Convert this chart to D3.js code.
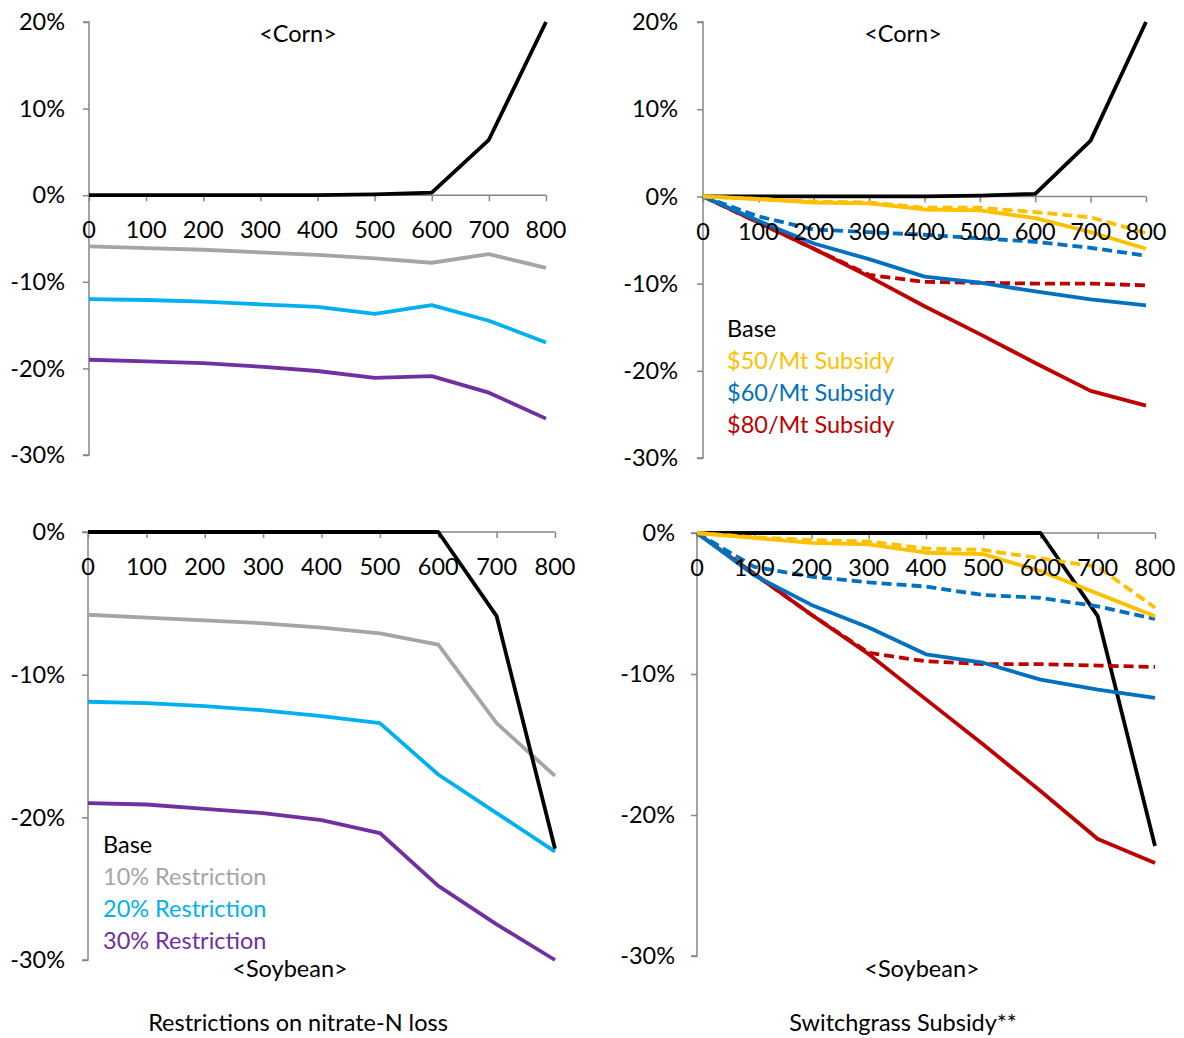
<!DOCTYPE html>
<html><head><meta charset="utf-8">
<script src="https://cdn.jsdelivr.net/npm/d3@7"></script>
<style>
html,body{margin:0;padding:0;background:#fff;}
text{font-family:Lato,"Open Sans",sans-serif;}
</style></head>
<body><svg id="c" width="1184" height="1038"></svg>
<script>
// ---------- data ----------
const xValues = [0,100,200,300,400,500,600,700,800];
const xTickLabels = ["0","100","200","300","400","500","600","700","800"];
const yTicksTop = [20,10,0,-10,-20,-30];
const yTicksBottom = [0,-10,-20,-30];

// Corn, restrictions on nitrate-N loss
const cornBase       = [0,0,0,0,0,0.1,0.3,6.4,20];
const cornRestr10    = [-5.9,-6.1,-6.3,-6.6,-6.9,-7.3,-7.8,-6.8,-8.4];
const cornRestr20    = [-12.0,-12.1,-12.3,-12.6,-12.9,-13.7,-12.7,-14.5,-17.0];
const cornRestr30    = [-19.0,-19.2,-19.4,-19.8,-20.3,-21.1,-20.9,-22.8,-25.8];

// Corn, switchgrass subsidy (solid / dashed)
const cornSub50      = [0,-0.3,-0.7,-0.8,-1.5,-1.6,-2.5,-4.1,-6.0];
const cornSub50d     = [0,-0.3,-0.6,-0.7,-1.3,-1.3,-1.8,-2.4,-4.2];
const cornSub60      = [0,-2.8,-5.4,-7.2,-9.2,-9.9,-10.9,-11.8,-12.5];
const cornSub60d     = [0,-2.3,-3.8,-4.1,-4.4,-4.8,-5.2,-5.9,-6.8];
const cornSub80      = [0,-3.0,-6.0,-9.2,-12.6,-15.8,-19.1,-22.3,-24.0];
const cornSub80d     = [0,-3.0,-6.0,-9.0,-9.8,-9.9,-10.0,-10.0,-10.2];

// Soybean, restrictions
const soyBase        = [0,0,0,0,0,0,0,-5.9,-22.2];
const soyRestr10     = [-5.8,-6.0,-6.2,-6.4,-6.7,-7.1,-7.9,-13.4,-17.1];
const soyRestr20     = [-11.9,-12.0,-12.2,-12.5,-12.9,-13.4,-17.0,-19.7,-22.4];
const soyRestr30     = [-19.0,-19.1,-19.4,-19.7,-20.2,-21.1,-24.8,-27.5,-30.0];

// Soybean, subsidy
const soySub50       = [0,-0.35,-0.7,-0.8,-1.4,-1.5,-2.7,-4.3,-5.9];
const soySub50d      = [0,-0.3,-0.5,-0.6,-1.1,-1.2,-1.8,-2.4,-5.3];
const soySub60       = [0,-3.0,-5.1,-6.7,-8.6,-9.2,-10.4,-11.1,-11.7];
const soySub60d      = [0,-2.4,-3.1,-3.5,-3.8,-4.4,-4.6,-5.2,-6.1];
const soySub80       = [0,-2.9,-5.8,-8.6,-11.8,-15.0,-18.3,-21.7,-23.4];
const soySub80d      = [0,-2.9,-5.8,-8.5,-9.1,-9.3,-9.3,-9.4,-9.5];

const restrLegend = ["Base","10% Restriction","20% Restriction","30% Restriction"];
const subLegend   = ["Base","$50/Mt Subsidy","$60/Mt Subsidy","$80/Mt Subsidy"];
const captions    = ["Restrictions on nitrate-N loss","Switchgrass Subsidy**"];

// ---------- styles ----------
const C = {base:"#000000", r10:"#A5A5A5", r20:"#00B0F0", r30:"#7030A0",
           s50:"#FFC000", s60:"#0070C0", s80:"#C00000", axis:"#868686"};
const FS = 23.5;

const svg = d3.select("#c");

function panel(cfg){
  const x = d3.scaleLinear().domain([0,800]).range([cfg.x0,cfg.x1]);
  const y = d3.scaleLinear().domain([cfg.ymax,-30]).range([cfg.yt,cfg.yb]);
  const g = svg.append("g");
  // y axis
  const ya = d3.axisLeft(y).tickValues(cfg.yticks).tickSize(6).tickFormat(d=>"");
  const gy = g.append("g").attr("transform",`translate(${cfg.x0},0)`).call(ya);
  gy.select(".domain").attr("stroke",C.axis).attr("stroke-width",1.5).attr("d",`M-6,${cfg.yt}H0V${cfg.yb}H-6`);
  gy.selectAll(".tick line").attr("stroke",C.axis).attr("stroke-width",1.5);
  g.selectAll(".ylab").data(cfg.yticks).join("text")
    .attr("x",cfg.x0-cfg.ylabOff).attr("y",d=>y(d)).attr("dy","0.35em")
    .attr("text-anchor","end").attr("font-size",FS).attr("fill","#000")
    .text(d=>d+"%");
  // x axis at 0
  const xa = d3.axisBottom(x).tickValues(xValues).tickSize(6).tickFormat(d=>"");
  const gx = g.append("g").attr("transform",`translate(0,${y(0)})`).call(xa);
  gx.select(".domain").attr("stroke",C.axis).attr("stroke-width",1.5).attr("d",`M${cfg.x0},0H${cfg.x1}`);
  gx.selectAll(".tick line").attr("stroke",C.axis).attr("stroke-width",1.5);
  // series
  const line = d3.line().x((d,i)=>x(xValues[i])).y(d=>y(d));
  cfg.series.forEach(s=>{
    g.append("path").datum(s.v).attr("d",line).attr("fill","none")
      .attr("stroke",s.c).attr("stroke-width",s.w||3.8)
      .attr("stroke-linejoin","round")
      .attr("stroke-dasharray",s.dash?"10,5":null);
  });
  // x tick labels (drawn over lines)
  g.selectAll(".xlab").data(xValues).join("text")
    .attr("x",d=>x(d)).attr("y",y(0)+35).attr("dy","0.35em")
    .attr("text-anchor","middle").attr("font-size",FS).attr("fill","#000")
    .text((d,i)=>xTickLabels[i]);
  // title
  g.append("text").attr("x",cfg.tx).attr("y",cfg.ty).attr("dy","0.35em")
    .attr("text-anchor","middle").attr("font-size",FS).text(cfg.title);
  // legend
  if(cfg.legend){
    cfg.legend.items.forEach((t,i)=>{
      g.append("text").attr("x",cfg.legend.x).attr("y",cfg.legend.y+i*32).attr("dy","0.35em")
        .attr("font-size",FS).attr("fill",cfg.legend.colors[i]).text(t);
    });
  }
}

panel({x0:89,x1:546,yt:22,yb:455,ymax:20,yticks:yTicksTop,ylabOff:24,
  title:"<Corn>",tx:298,ty:34,
  series:[{v:cornRestr10,c:C.r10},{v:cornRestr20,c:C.r20},{v:cornRestr30,c:C.r30},{v:cornBase,c:C.base}]});

panel({x0:703,x1:1146,yt:22,yb:458,ymax:20,yticks:yTicksTop,ylabOff:25,
  title:"<Corn>",tx:903,ty:34,
  series:[{v:cornBase,c:C.base},
          {v:cornSub80,c:C.s80},{v:cornSub80d,c:C.s80,dash:true},
          {v:cornSub60,c:C.s60},{v:cornSub60d,c:C.s60,dash:true},
          {v:cornSub50,c:C.s50},{v:cornSub50d,c:C.s50,dash:true}],
  legend:{x:727,y:329,items:subLegend,colors:[C.base,C.s50,C.s60,C.s80]}});

panel({x0:88,x1:555,yt:532,yb:960,ymax:0,yticks:yTicksBottom,ylabOff:23,
  title:"<Soybean>",tx:290,ty:969,
  series:[{v:soyRestr10,c:C.r10},{v:soyRestr20,c:C.r20},{v:soyRestr30,c:C.r30},{v:soyBase,c:C.base}],
  legend:{x:103,y:845,items:restrLegend,colors:[C.base,C.r10,C.r20,C.r30]}});

panel({x0:697,x1:1155,yt:533,yb:956,ymax:0,yticks:yTicksBottom,ylabOff:22,
  title:"<Soybean>",tx:922,ty:969,
  series:[{v:soyBase,c:C.base},
          {v:soySub80,c:C.s80},{v:soySub80d,c:C.s80,dash:true},
          {v:soySub60,c:C.s60},{v:soySub60d,c:C.s60,dash:true},
          {v:soySub50,c:C.s50},{v:soySub50d,c:C.s50,dash:true}]});

svg.append("text").attr("x",298).attr("y",1023).attr("dy","0.35em").attr("text-anchor","middle")
  .attr("font-size",FS).text(captions[0]);
svg.append("text").attr("x",903).attr("y",1023).attr("dy","0.35em").attr("text-anchor","middle")
  .attr("font-size",FS).text(captions[1]);
</script></body></html>
